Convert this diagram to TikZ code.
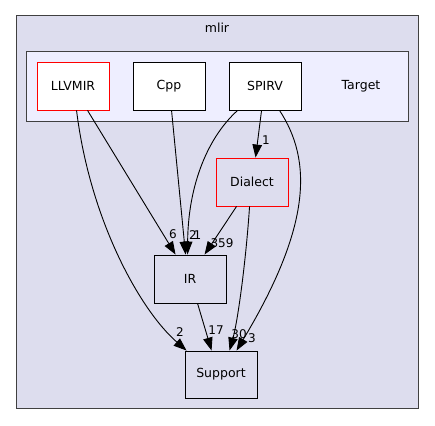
\documentclass[tikz,border=0pt]{standalone}
\usepackage{fontspec}
\setmainfont{DejaVu Sans}
\usetikzlibrary{arrows.meta,calc}
\definecolor{outerbg}{RGB}{221,221,238}
\definecolor{innerbg}{RGB}{238,238,255}
\definecolor{frame}{RGB}{64,64,64}
\tikzset{
  dirbox/.style={draw=black, line width=0.9pt, minimum width=72pt, minimum height=48pt, inner sep=0pt, font=\fontsize{12.5}{14}\selectfont},
  topbox/.style={dirbox, fill=white},
  redbox/.style={draw=red},
  dep/.style={line width=0.9pt, -{Triangle[length=13pt,width=9.5pt]}},
  elabel/.style={font=\fontsize{12}{13}\selectfont, inner sep=0pt},
  clusterlabel/.style={font=\fontsize{12.5}{14}\selectfont, inner sep=0pt}
}
\begin{document}
\begin{tikzpicture}[x=1pt,y=-1pt]
\useasboundingbox (0,0) rectangle (435,425);
\fill[white] (0,0) rectangle (435,425);
% clusters
\draw[frame, fill=outerbg, line width=1pt] (16,16) rectangle (418,408);
\node[clusterlabel] (mlirlabel) at (217,27.5) {mlir};
\draw[frame, fill=innerbg, line width=1pt] (26,52) rectangle (408,121);
\node[clusterlabel] (targetlabel) at (361,86) {Target};
% nodes
\node[topbox, redbox] (LLVMIR) at (73,86) {LLVMIR};
\node[topbox] (Cpp) at (169,86) {Cpp};
\node[topbox] (SPIRV) at (265,86) {SPIRV};
\node[dirbox, redbox] (Dialect) at (252,182) {Dialect};
\node[dirbox] (IR) at (190,279) {IR};
\node[dirbox, minimum height=47pt] (Support) at (221,374.5) {Support};
% edges
\draw[dep] ($(LLVMIR.south west)+(51,0)$) -- ($(IR.north west)+(22,0)$);
\draw[dep] ($(LLVMIR.south west)+(40,0)$) .. controls (90,220) and (140,310) .. ($(Support.north west)+(2,0)$);
\draw[dep] ($(Cpp.south west)+(39,0)$) -- ($(IR.north west)+(32,0)$);
\draw[dep] ($(SPIRV.south west)+(9,0)$) .. controls (205,140) and (188,190) .. ($(IR.north west)+(34,0)$);
\draw[dep] ($(SPIRV.south west)+(33,0)$) -- ($(Dialect.north west)+(40,0)$);
\draw[dep] ($(SPIRV.south west)+(51,0)$) .. controls (312,160) and (312,225) .. ($(Support.north west)+(52,0)$);
\draw[dep] ($(Dialect.south west)+(21,0)$) -- ($(IR.north west)+(51,0)$);
\draw[dep] ($(Dialect.south west)+(34,0)$) .. controls (246,260) and (238,320) .. ($(Support.north west)+(45,0)$);
\draw[dep] ($(IR.south west)+(44,0)$) -- ($(Support.north west)+(27,0)$);
% labels
\node[elabel] (l1) at (173,234) {6};
\node[elabel] (l2) at (193,235) {2};
\node[elabel] (l3) at (197.5,235) {1};
\node[elabel] (l4) at (222,243) {359};
\node[elabel] (l5) at (266,140) {1};
\node[elabel] (l6) at (180,332) {2};
\node[elabel] (l7) at (216,330) {17};
\node[elabel] (l8) at (239,334) {30};
\node[elabel] (l9) at (252,338) {3};
\end{tikzpicture}
\end{document}
